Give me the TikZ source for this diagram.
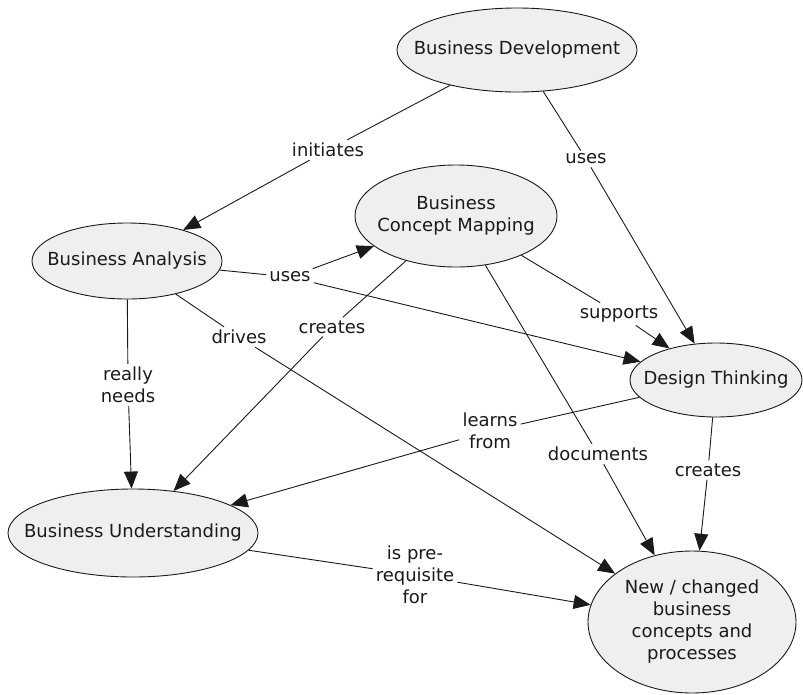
\documentclass[tikz,border=0pt]{standalone}
\usepackage{fontspec}
\setmainfont{DejaVu Sans}
\usetikzlibrary{shapes.geometric,arrows.meta}
\definecolor{conceptfill}{HTML}{EFEFEF}
\definecolor{ink}{HTML}{1A1A1A}
\begin{document}
\begin{tikzpicture}[x=1pt,y=-1pt,
  every node/.style={font=\fontsize{18}{22}\selectfont, text=ink},
  concept/.style={ellipse, draw=ink, line width=0.9pt, fill=conceptfill,
    inner sep=0pt},
  concepttext/.style={align=center, inner sep=0pt},
  linkphrase/.style={inner sep=3pt, align=center},
  link/.style={draw=ink, line width=0.9pt},
  linkarrow/.style={link, -{Triangle[length=17pt,width=14pt]}}]
\useasboundingbox (0,0) rectangle (803,694);

% concepts: the ellipse keeps its own size, the text sits at its centre
\node[concept, minimum width=240pt, minimum height=84pt,
  label={[concepttext]center:Business Development}] (bd) at (517,50) {};
\node[concept, minimum width=202pt, minimum height=102pt,
  label={[concepttext]center:Business\\Concept Mapping}] (bcm) at (456,216) {};
\node[concept, minimum width=190pt, minimum height=76pt,
  label={[concepttext]center:Business Analysis}] (ba) at (127,261) {};
\node[concept, minimum width=172pt, minimum height=74pt,
  label={[concepttext]center:Design Thinking}] (dt) at (716,380) {};
\node[concept, minimum width=250pt, minimum height=88pt,
  label={[concepttext]center:Business Understanding}] (bu) at (133,533) {};
\node[concept, minimum width=208pt, minimum height=142pt,
  label={[concepttext]center:New / changed\\business\\concepts and\\processes}] (nc) at (692,622) {};

% linking phrases
\node[linkphrase] (initiates) at (328,150) {initiates};
\node[linkphrase] (usesbd) at (586,159) {uses};
\node[linkphrase] (usesba) at (290,277) {uses};
\node[linkphrase] (drives) at (239,337) {drives};
\node[linkphrase] (createsbcm) at (332,327) {creates};
\node[linkphrase] (needs) at (128,385) {really\\needs};
\node[linkphrase] (supports) at (619,314) {supports};
\node[linkphrase] (learns) at (490,431) {learns\\from};
\node[linkphrase] (documents) at (598,454) {documents};
\node[linkphrase] (createsdt) at (708,470) {creates};
\node[linkphrase] (prereq) at (415,575) {is pre-\\requisite\\for};

% connections
\draw[link] (bd) -- (initiates);
\draw[linkarrow] (initiates) -- (ba);
\draw[link] (bd) -- (usesbd);
\draw[linkarrow] (usesbd) -- (dt);
\draw[link] (ba) -- (usesba);
\draw[linkarrow] (usesba) -- (bcm);
\draw[linkarrow] (usesba) -- (dt);
\draw[link] (ba) -- (drives);
\draw[linkarrow] (drives) -- (nc);
\draw[link] (ba) -- (needs);
\draw[linkarrow] (needs) -- (bu);
\draw[link] (bcm) -- (createsbcm);
\draw[linkarrow] (createsbcm) -- (bu);
\draw[link] (bcm) -- (supports);
\draw[linkarrow] (supports) -- (dt);
\draw[link] (bcm) -- (documents);
\draw[linkarrow] (documents) -- (nc);
\draw[link] (dt) -- (learns);
\draw[linkarrow] (learns) -- (bu);
\draw[link] (dt) -- (createsdt);
\draw[linkarrow] (createsdt) -- (nc);
\draw[link] (bu) -- (prereq);
\draw[linkarrow] (prereq) -- (nc);
\end{tikzpicture}
\end{document}
